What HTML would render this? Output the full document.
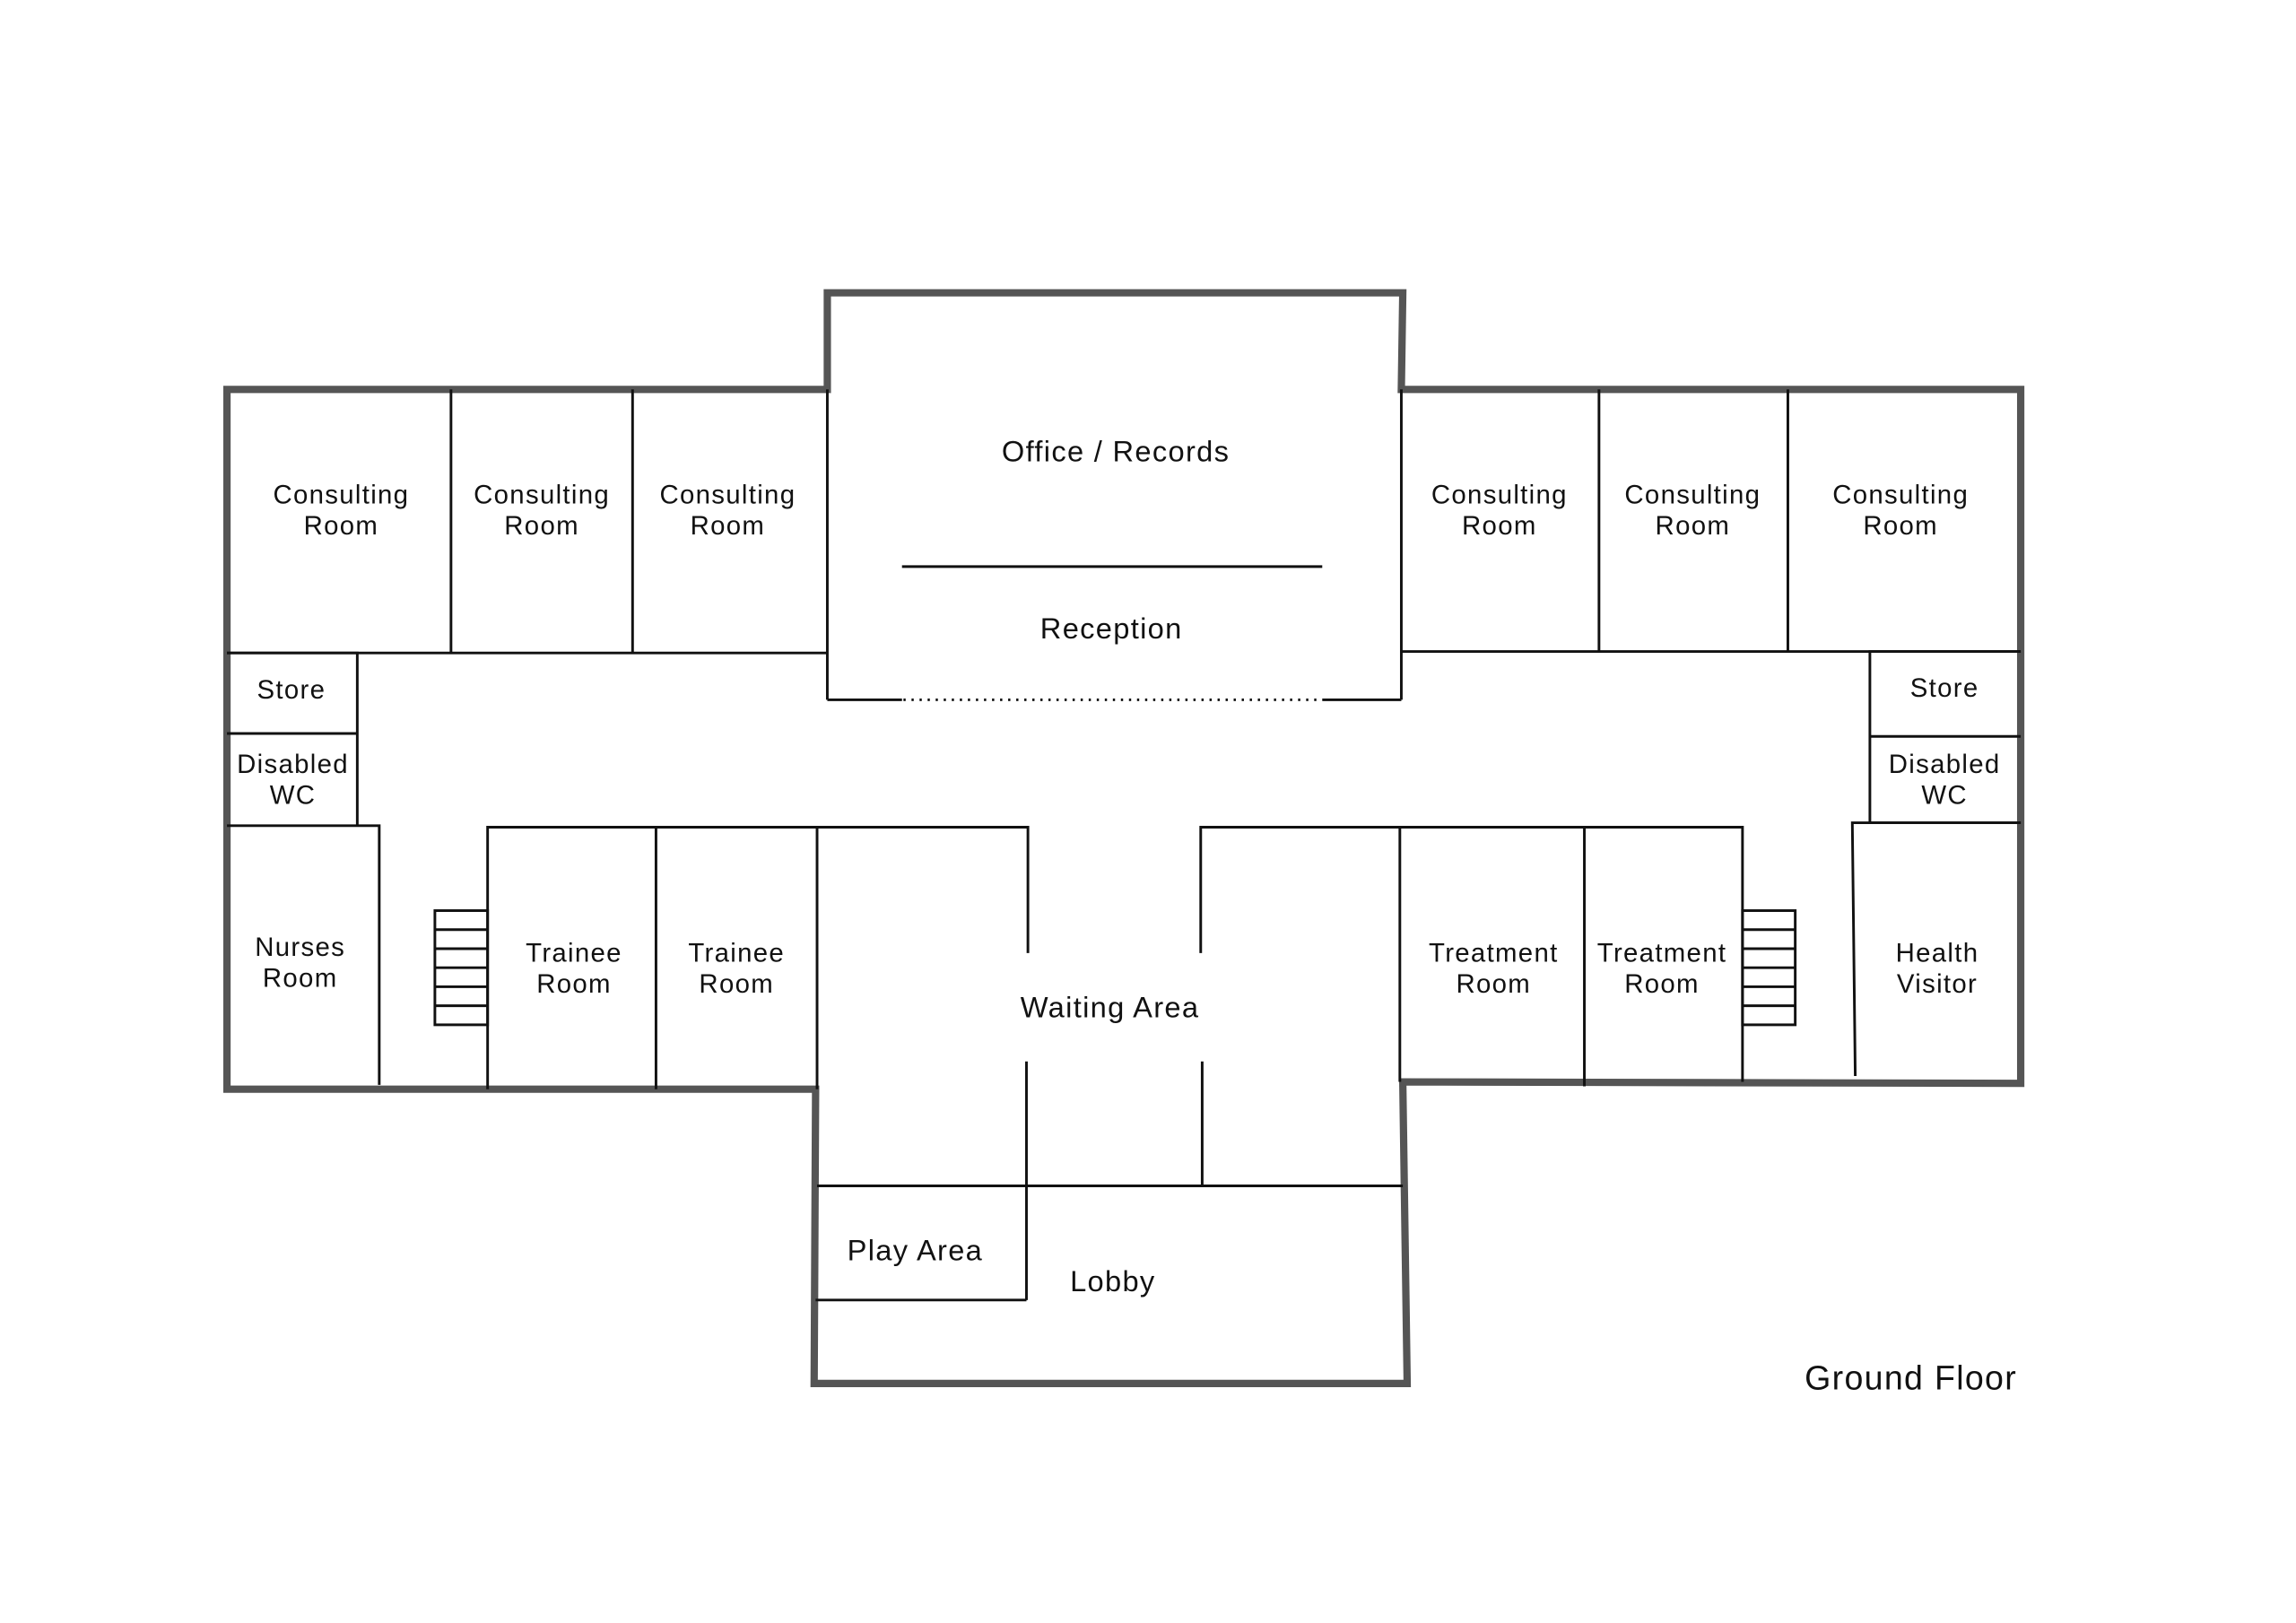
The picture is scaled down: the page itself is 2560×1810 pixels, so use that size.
<!DOCTYPE html>
<html><head><meta charset="utf-8"><style>
html,body{margin:0;padding:0;background:#fff}
svg{display:block}
text{font-family:"Liberation Sans",sans-serif;font-size:18px;fill:#111;text-anchor:middle;letter-spacing:0.8px}
</style></head><body>
<svg width="2560" height="1810" viewBox="0 0 1568 1108.6" xmlns="http://www.w3.org/2000/svg">
<rect width="1568" height="1108.6" fill="#fff"/>
<g fill="none" stroke="#555" stroke-width="5" stroke-linejoin="miter">
<path d="M565,266 L565,200 L958,200 L957,266 L1380,266 L1380,740 L958,739 L961,945 L556,945 L557,744 L155,744 L155,266 Z"/>
</g>
<g fill="none" stroke="#111" stroke-width="1.8">
<line x1="155" y1="446" x2="565" y2="446"/>
<line x1="308" y1="266" x2="308" y2="446"/>
<line x1="432" y1="266" x2="432" y2="446"/>
<line x1="565" y1="266" x2="565" y2="478"/>
<line x1="957" y1="266" x2="957" y2="478"/>
<line x1="616" y1="387" x2="903" y2="387"/>
<line x1="565" y1="478" x2="616" y2="478"/>
<line x1="903" y1="478" x2="957" y2="478"/>
<line x1="617" y1="478" x2="903" y2="478" stroke-dasharray="1.5 4"/>
<line x1="957" y1="445" x2="1380" y2="445"/>
<line x1="1092" y1="266" x2="1092" y2="445"/>
<line x1="1221" y1="266" x2="1221" y2="445"/>
<polyline points="155,446 244,446 244,564"/>
<line x1="155" y1="501" x2="244" y2="501"/>
<polyline points="155,564 259,564 259,741"/>
<polyline points="1380,445 1277,445 1277,562 1380,562"/>
<line x1="1277" y1="503" x2="1380" y2="503"/>
<polyline points="1380,562 1265,562 1267,735"/>
<polyline points="333,744 333,565 702,565 702,651"/>
<line x1="448" y1="565" x2="448" y2="744"/>
<line x1="558" y1="565" x2="558" y2="744"/>
<rect x="297" y="622" width="36" height="78"/>
<line x1="297" y1="635" x2="333" y2="635"/>
<line x1="297" y1="648" x2="333" y2="648"/>
<line x1="297" y1="661" x2="333" y2="661"/>
<line x1="297" y1="674" x2="333" y2="674"/>
<line x1="297" y1="687" x2="333" y2="687"/>
<polyline points="820,651 820,565 1190,565 1190,739"/>
<line x1="956" y1="565" x2="956" y2="739"/>
<line x1="1082" y1="565" x2="1082" y2="742"/>
<rect x="1190" y="622" width="36" height="78"/>
<line x1="1190" y1="635" x2="1226" y2="635"/>
<line x1="1190" y1="648" x2="1226" y2="648"/>
<line x1="1190" y1="661" x2="1226" y2="661"/>
<line x1="1190" y1="674" x2="1226" y2="674"/>
<line x1="1190" y1="687" x2="1226" y2="687"/>
<line x1="701" y1="725" x2="701" y2="888"/>
<line x1="821" y1="725" x2="821" y2="810"/>
<line x1="558" y1="810" x2="958" y2="810"/>
<line x1="557" y1="888" x2="701" y2="888"/>
</g>
<text x="233" y="344">Consulting</text><text x="233" y="365">Room</text>
<text x="370" y="344">Consulting</text><text x="370" y="365">Room</text>
<text x="497" y="344">Consulting</text><text x="497" y="365">Room</text>
<text x="762" y="315" style="font-size:20px">Office / Records</text>
<text x="759" y="436" style="font-size:20px">Reception</text>
<text x="1024" y="344">Consulting</text><text x="1024" y="365">Room</text>
<text x="1156" y="344">Consulting</text><text x="1156" y="365">Room</text>
<text x="1298" y="344">Consulting</text><text x="1298" y="365">Room</text>
<text x="199" y="477">Store</text>
<text x="200" y="528">Disabled</text><text x="200" y="549">WC</text>
<text x="1328" y="476">Store</text>
<text x="1328" y="528">Disabled</text><text x="1328" y="549">WC</text>
<text x="205" y="653">Nurses</text><text x="205" y="674">Room</text>
<text x="392" y="657">Trainee</text><text x="392" y="678">Room</text>
<text x="503" y="657">Trainee</text><text x="503" y="678">Room</text>
<text x="758" y="695" style="font-size:20px">Waiting Area</text>
<text x="1020" y="657">Treatment</text><text x="1020" y="678">Room</text>
<text x="1135" y="657">Treatment</text><text x="1135" y="678">Room</text>
<text x="1323" y="657">Health</text><text x="1323" y="678">Visitor</text>
<text x="625" y="861" style="font-size:20px">Play Area</text>
<text x="760" y="882" style="font-size:20px">Lobby</text>
<text x="1305" y="949" style="font-size:23px">Ground Floor</text>
</svg>
</body></html>
